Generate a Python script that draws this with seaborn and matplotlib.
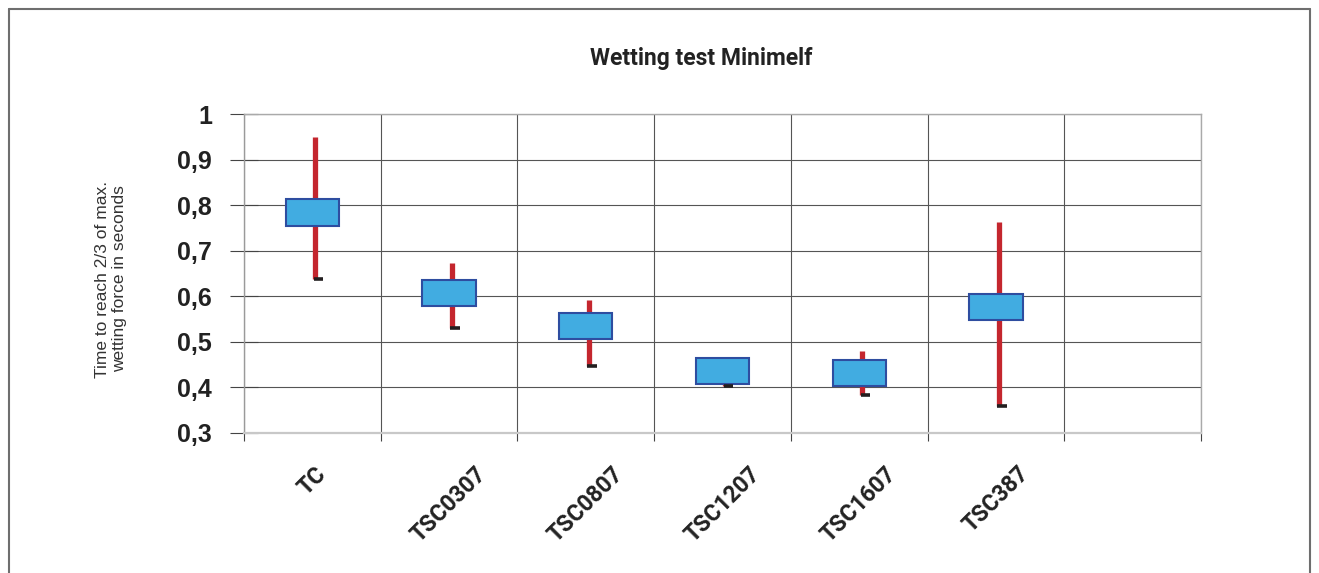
import numpy as np
import pandas as pd
import matplotlib
matplotlib.use("Agg")
import matplotlib.pyplot as plt
from matplotlib.lines import Line2D
from matplotlib.ticker import FixedLocator, FuncFormatter
import seaborn as sns

# values
categories = ["TC", "TSC0307", "TSC0807", "TSC1207", "TSC1607", "TSC387"]
high = [0.950, 0.673, 0.592, 0.465, 0.480, 0.763]
box_top = [0.813, 0.635, 0.564, 0.465, 0.460, 0.606]
box_bottom = [0.755, 0.578, 0.506, 0.407, 0.403, 0.548]
low = [0.638, 0.530, 0.448, 0.404, 0.384, 0.359]
n_slots = 7
y_ticks = [0.3, 0.4, 0.5, 0.6, 0.7, 0.8, 0.9, 1.0]

df = pd.DataFrame({
    "sample": categories,
    "span": np.array(box_top) - np.array(box_bottom),
})

sns.set_style("white")
plt.rcParams["font.family"] = ["Liberation Sans", "DejaVu Sans"]

W, H = 1319, 573
fig = plt.figure(figsize=(W / 100, H / 100), dpi=100)
ax = fig.add_axes([244 / W, 1 - 433 / H, (1201 - 244) / W, (433 - 114) / H])

pos = np.arange(len(categories))

# high-low lines (behind the boxes)
ax.vlines(pos + 0.02, low, high, color="#C4262E", linewidth=3.8, zorder=2)

# boxes
sns.barplot(data=df, x="sample", y="span", bottom=box_bottom, width=0.39,
            color="#41ACE1", edgecolor="#2E4DA0", linewidth=1.5,
            saturation=1, errorbar=None, zorder=3, ax=ax)

# low marker
ax.hlines(low, pos + 0.01, pos + 0.08, color="#231F20", linewidth=2.6, zorder=4)

ax.set_xlim(-0.5, n_slots - 0.5)
ax.set_ylim(0.3, 1.0)
ax.set_xlabel("")
ax.set_ylabel("")

# grid
ax.set_axisbelow(True)
ax.yaxis.set_major_locator(FixedLocator(y_ticks))
ax.yaxis.set_major_formatter(FuncFormatter(
    lambda v, p: "1" if abs(v - 1) < 1e-9 else f"{v:.1f}".replace(".", ",")))
ax.xaxis.set_minor_locator(FixedLocator(np.arange(n_slots + 1) - 0.5))
ax.grid(axis="y", which="major", color="#555555", linewidth=0.8)
ax.grid(axis="x", which="minor", color="#555555", linewidth=0.8)
ax.grid(axis="x", which="major", visible=False)

for side, col, lw in [("left", "#9A9A9A", 1.0), ("bottom", "#C8C8C8", 1.6),
                      ("top", "#AAAAAA", 1.0), ("right", "#AAAAAA", 1.0)]:
    ax.spines[side].set_color(col)
    ax.spines[side].set_linewidth(lw)

ax.tick_params(axis="y", which="major", left=True, direction="inout", length=20,
               width=0.8, color="#444444", pad=13, labelsize=18,
               labelcolor="#222222")
for lab in ax.get_yticklabels():
    lab.set_fontweight("bold")

ax.tick_params(axis="x", which="minor", bottom=True, direction="out", length=6,
               width=0.8, color="#444444")
ax.tick_params(axis="x", which="major", length=0, pad=21)
ax.set_xticks(pos)
ax.set_xticklabels(categories, rotation=45, ha="center", va="top",
                   fontsize=16.5, fontweight="bold",
                   color="#222222", family=["Roboto", "DejaVu Sans"])

# title and axis caption
fig.text(701 / W, 1 - 58 / H, "Wetting test Minimelf", ha="center", va="center",
         fontsize=16.5, fontweight="bold", color="#222222",
         family=["Roboto", "DejaVu Sans"])
fig.text(111 / W, 1 - 279 / H, "Time to reach 2/3 of max.\nwetting force in seconds",
         rotation=90, ha="center", va="center", multialignment="center",
         fontsize=12.5, color="#333333", linespacing=1.15)

# outer frame (open at the bottom)
fx0, fx1, fy1 = 9 / W, 1310 / W, 1 - 9 / H
for xs, ys in [([fx0, fx0], [0, fy1]), ([fx0, fx1], [fy1, fy1]), ([fx1, fx1], [fy1, 0])]:
    fig.add_artist(Line2D(xs, ys, transform=fig.transFigure, color="#6E6E6E",
                          linewidth=1.5))

fig.savefig("out.png", dpi=100)
